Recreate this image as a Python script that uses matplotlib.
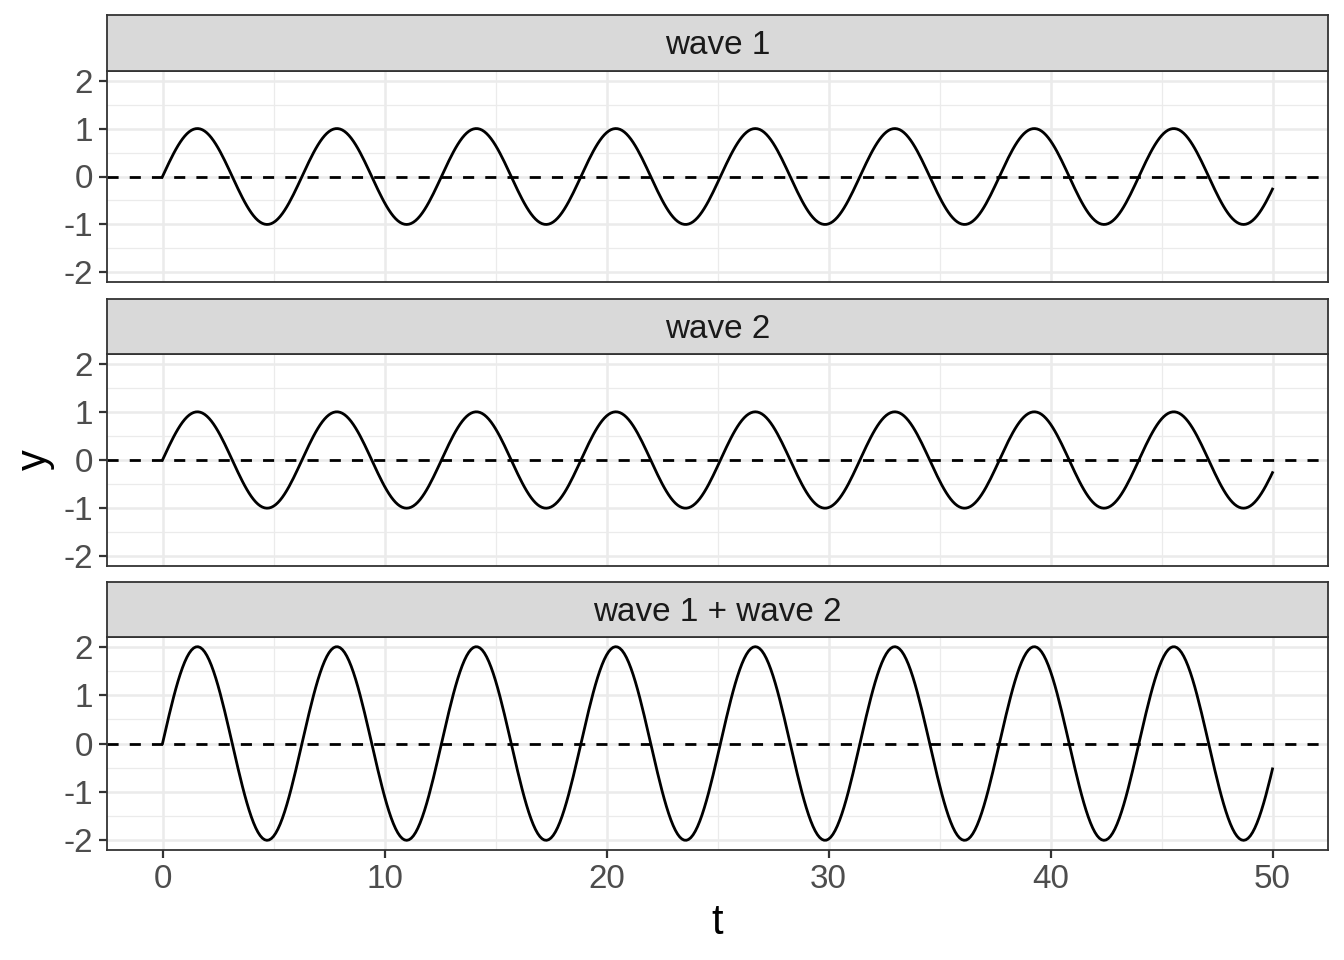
import numpy as np
import matplotlib
matplotlib.use("Agg")
import matplotlib.pyplot as plt

plt.rcParams['font.family'] = ['Liberation Sans', 'DejaVu Sans']

# ---- data ----
panel_titles = ["wave 1", "wave 2", "wave 1 + wave 2"]
t = np.arange(0, 50.0001, 0.1)
wave1 = np.sin(t)
wave2 = np.sin(t)
wave_sum = wave1 + wave2
series = [wave1, wave2, wave_sum]
x_ticks = [0, 10, 20, 30, 40, 50]
y_ticks = [-2, -1, 0, 1, 2]
y_ticklabels = ["-2", "-1", "0", "1", "2"]
x_minor = [5, 15, 25, 35, 45]
y_minor = [-1.5, -0.5, 0.5, 1.5]
ref_level = 0

W, H = 1344, 960
fig = plt.figure(figsize=(W / 200, H / 200), dpi=200)

LW = 1.0
BW = 0.65
left, right = 107, 1328
panels = [(15, 71, 282), (299, 354, 566), (582, 637, 850)]

for i, (s_top, p_top, p_bot) in enumerate(panels):
    ax = fig.add_axes([left / W, 1 - p_bot / H, (right - left) / W, (p_bot - p_top) / H])
    ax.set_xlim(-2.5, 52.5)
    ax.set_ylim(-2.2, 2.2)
    ax.set_xticks(x_ticks)
    ax.set_yticks(y_ticks)
    ax.set_yticklabels(y_ticklabels)
    ax.set_xticks(x_minor, minor=True)
    ax.set_yticks(y_minor, minor=True)
    ax.grid(which='major', color='#EBEBEB', linewidth=0.9)
    ax.grid(which='minor', color='#EBEBEB', linewidth=0.45)
    ax.set_axisbelow(True)
    for sp in ax.spines.values():
        sp.set_color('#333333')
        sp.set_linewidth(BW)
    ax.tick_params(which='minor', length=0)
    ax.tick_params(which='major', length=2.75, width=0.8, color='#333333',
                   labelsize=8.8 * 1.36, labelcolor='#4D4D4D', pad=2.2)
    ax.axhline(ref_level, color='black', linewidth=LW, dashes=(4, 4))
    ax.plot(t, series[i], color='black', linewidth=LW)
    if i < 2:
        ax.tick_params(axis='x', which='both', bottom=False, labelbottom=False)
    else:
        ax.set_xlabel("t", fontsize=11 * 1.36, color='black', labelpad=3)
    if i == 1:
        ax.set_ylabel("y", fontsize=11 * 1.36, color='black', labelpad=3)

    sax = fig.add_axes([left / W, 1 - p_top / H, (right - left) / W, (p_top - s_top) / H])
    sax.set_facecolor('#D9D9D9')
    sax.set_xticks([])
    sax.set_yticks([])
    for sp in sax.spines.values():
        sp.set_color('#333333')
        sp.set_linewidth(BW)
    sax.text(0.5, 0.45, panel_titles[i], ha='center', va='center',
             fontsize=8.8 * 1.36, color='#1A1A1A', transform=sax.transAxes)

fig.savefig("out.png", dpi=200, facecolor='white')
